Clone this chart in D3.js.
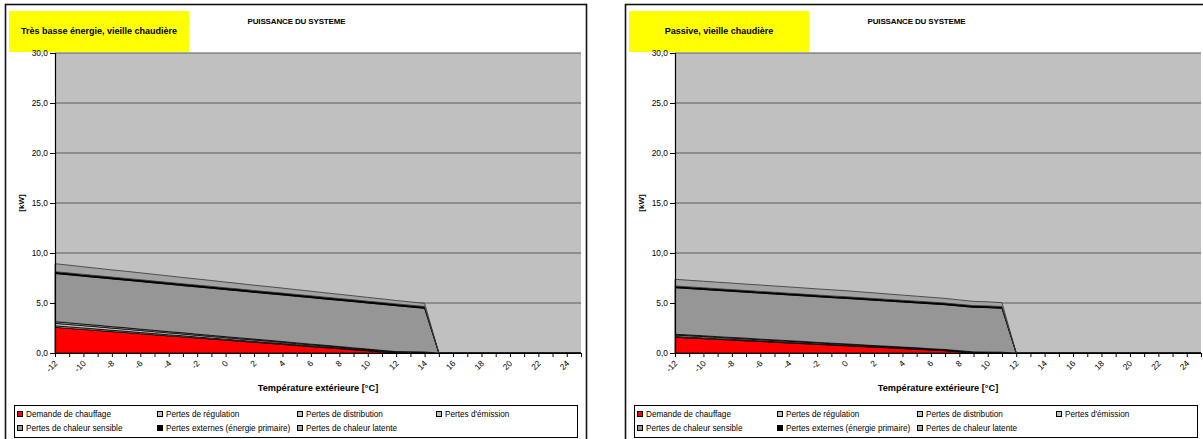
<!DOCTYPE html>
<html><head><meta charset="utf-8">
<script src="https://cdn.jsdelivr.net/npm/d3@7"></script>
<style>
body{margin:0;background:#fff}
svg{display:block}
text{font-family:Arial,"Liberation Sans",sans-serif;fill:#000}
</style>
</head><body>
<svg id="c" width="1203" height="439"></svg>
<script>
// ---------- DATA ----------
const temperatures = [-12,-11,-10,-9,-8,-7,-6,-5,-4,-3,-2,-1,0,1,2,3,4,5,6,7,8,9,10,11,12,13,14,15,16,17,18,19,20,21,22,23,24,25];
const xTickLabels = [-12,-10,-8,-6,-4,-2,0,2,4,6,8,10,12,14,16,18,20,22,24];
const yTickValues = [0,5,10,15,20,25,30];
const yTickLabels = ["0,0","5,0","10,0","15,0","20,0","25,0","30,0"];
const seriesNames = ["Demande de chauffage","Pertes de régulation","Pertes de distribution","Pertes d'émission","Pertes de chaleur sensible","Pertes externes (énergie primaire)","Pertes de chaleur latente"];
const chartTitle = "PUISSANCE DU SYSTEME";
const xAxisTitle = "Température extérieure [°C]";
const yAxisTitle = "[kW]";
const leftSubtitle = "Très basse énergie, vieille chaudière";
const rightSubtitle = "Passive, vieille chaudière";

// Left panel: Très basse énergie
const leftDemande      = [2.57,2.46,2.36,2.25,2.14,2.04,1.93,1.82,1.71,1.61,1.50,1.39,1.29,1.18,1.07,0.97,0.86,0.75,0.64,0.54,0.43,0.32,0.22,0.11,0,0,0,0,0,0,0,0,0,0,0,0,0,0];
const leftRegulation   = [0.15,0.15,0.14,0.14,0.13,0.13,0.12,0.12,0.11,0.11,0.10,0.10,0.09,0.09,0.09,0.08,0.08,0.07,0.07,0.06,0.06,0.05,0.05,0.04,0.04,0.03,0.03,0,0,0,0,0,0,0,0,0,0,0];
const leftDistribution = [0.25,0.24,0.23,0.23,0.22,0.21,0.20,0.19,0.19,0.18,0.17,0.16,0.15,0.14,0.14,0.13,0.12,0.11,0.10,0.10,0.09,0.08,0.07,0.06,0.06,0.05,0.04,0,0,0,0,0,0,0,0,0,0,0];
const leftEmission     = [0.16,0.16,0.15,0.15,0.14,0.14,0.13,0.13,0.12,0.12,0.11,0.11,0.10,0.10,0.09,0.09,0.08,0.08,0.07,0.07,0.06,0.06,0.05,0.05,0.04,0.04,0.03,0,0,0,0,0,0,0,0,0,0,0];
const leftSensible     = [4.82,4.81,4.80,4.78,4.78,4.76,4.77,4.75,4.75,4.72,4.73,4.72,4.71,4.70,4.68,4.67,4.67,4.66,4.66,4.63,4.63,4.63,4.61,4.61,4.59,4.48,4.37,0,0,0,0,0,0,0,0,0,0,0];
const leftExternes     = [0.18,0.18,0.18,0.18,0.18,0.18,0.18,0.18,0.18,0.18,0.18,0.18,0.18,0.18,0.18,0.18,0.18,0.18,0.18,0.18,0.18,0.18,0.18,0.18,0.18,0.18,0.18,0,0,0,0,0,0,0,0,0,0,0];
const leftLatente      = [0.80,0.78,0.76,0.74,0.72,0.71,0.69,0.67,0.65,0.63,0.61,0.59,0.57,0.55,0.53,0.52,0.50,0.48,0.46,0.44,0.42,0.40,0.38,0.36,0.34,0.33,0.31,0,0,0,0,0,0,0,0,0,0,0];

// Right panel: Passive
const rightDemande      = [1.57,1.50,1.43,1.36,1.29,1.22,1.15,1.08,1.00,0.93,0.86,0.79,0.72,0.65,0.58,0.51,0.44,0.37,0.30,0.23,0.12,0,0,0,0,0,0,0,0,0,0,0,0,0,0,0,0,0];
const rightRegulation   = [0.08,0.08,0.08,0.07,0.07,0.07,0.06,0.06,0.06,0.06,0.05,0.05,0.05,0.05,0.04,0.04,0.04,0.04,0.03,0.03,0.03,0.03,0.02,0.02,0,0,0,0,0,0,0,0,0,0,0,0,0,0];
const rightDistribution = [0.14,0.14,0.13,0.13,0.12,0.12,0.11,0.11,0.11,0.10,0.10,0.09,0.09,0.08,0.08,0.08,0.07,0.07,0.06,0.06,0.05,0.05,0.05,0.04,0,0,0,0,0,0,0,0,0,0,0,0,0,0];
const rightEmission     = [0.08,0.08,0.08,0.07,0.07,0.07,0.06,0.06,0.06,0.06,0.05,0.05,0.05,0.05,0.04,0.04,0.04,0.04,0.03,0.03,0.03,0.03,0.02,0.02,0,0,0,0,0,0,0,0,0,0,0,0,0,0];
const rightSensible     = [4.66,4.64,4.63,4.63,4.62,4.60,4.61,4.59,4.58,4.57,4.57,4.56,4.55,4.54,4.54,4.52,4.51,4.49,4.50,4.48,4.47,4.46,4.45,4.39,0,0,0,0,0,0,0,0,0,0,0,0,0,0];
const rightExternes     = [0.17,0.17,0.17,0.17,0.17,0.17,0.17,0.17,0.17,0.17,0.17,0.17,0.17,0.17,0.17,0.17,0.17,0.17,0.17,0.17,0.17,0.17,0.17,0.17,0,0,0,0,0,0,0,0,0,0,0,0,0,0];
const rightLatente      = [0.67,0.66,0.66,0.65,0.65,0.64,0.64,0.63,0.63,0.62,0.61,0.61,0.60,0.58,0.56,0.54,0.52,0.50,0.48,0.46,0.44,0.42,0.41,0.39,0,0,0,0,0,0,0,0,0,0,0,0,0,0];

// ---------- STYLE ----------
const seriesFill = ["#ff0000","#c0c0c0","#c0c0c0","#c0c0c0","#969696","#000000","#a3a3a3"];

const svg = d3.select("#c");

function drawPanel(ox, subtitle, series) {
  const g = svg.append("g").attr("transform", `translate(${ox},0)`);
  const plot = {l:55, r:581, t:53, b:353};
  const x = d3.scaleLinear().domain([temperatures[0], temperatures[temperatures.length-1]]).range([plot.l, plot.r]);
  const y = d3.scaleLinear().domain([0,30]).range([plot.b, plot.t]);

  // outer frame
  g.append("rect").attr("x",5.5).attr("y",4.5).attr("width",581).attr("height",440)
    .attr("fill","#fff").attr("stroke","#111").attr("stroke-width",1.6);

  // yellow label
  g.append("rect").attr("x",9).attr("y",11).attr("width",180).attr("height",41).attr("fill","#ffff00");
  g.append("text").attr("x",99).attr("y",33.5).attr("text-anchor","middle")
    .attr("font-size","9px").attr("font-weight","bold").text(subtitle);

  // title
  g.append("text").attr("x",296.5).attr("y",23.5).attr("text-anchor","middle")
    .attr("font-size","8px").attr("font-weight","bold").attr("letter-spacing","-0.15px").text(chartTitle);

  // plot background
  g.append("rect").attr("x",plot.l).attr("y",plot.t).attr("width",plot.r-plot.l).attr("height",plot.b-plot.t).attr("fill","#c0c0c0");

  // gridlines
  g.append("g").selectAll("line").data(yTickValues.filter(v=>v>0)).join("line")
    .attr("x1",plot.l).attr("x2",plot.r).attr("y1",d=>y(d)).attr("y2",d=>y(d))
    .attr("stroke","#5a5a5a").attr("stroke-width",1.2);

  // stacked areas
  const rows = temperatures.map((t,i)=>{
    const o = {t};
    seriesNames.forEach((n,k)=>{ o[n] = series[k][i]; });
    return o;
  });
  const stack = d3.stack().keys(seriesNames)(rows);
  const area = d3.area().x(d=>x(d.data.t)).y0(d=>y(d[0])).y1(d=>y(d[1]));
  g.append("g").selectAll("path").data(stack).join("path")
    .attr("d", area)
    .attr("fill",(d,i)=>seriesFill[i])
    .attr("stroke",(d,i)=> i===6 ? "#333" : "#000")
    .attr("stroke-width",0.8)
    .attr("stroke-linejoin","round");

  // y axis
  const yAxis = d3.axisLeft(y).tickValues(yTickValues).tickFormat((d,i)=>yTickLabels[i]).tickSize(5).tickPadding(2);
  const ya = g.append("g").attr("transform",`translate(${plot.l},0)`).call(yAxis);
  ya.select(".domain").attr("stroke","#000").attr("stroke-width",1.2);
  ya.selectAll(".tick line").attr("stroke","#000");
  ya.selectAll(".tick text").attr("font-size","8.4px").attr("font-family","Arial, 'Liberation Sans', sans-serif").attr("fill","#000");

  // x axis
  const xAxis = d3.axisBottom(x).tickValues(temperatures).tickFormat("").tickSize(4).tickSizeOuter(0);
  const xa = g.append("g").attr("transform",`translate(0,${plot.b})`).call(xAxis);
  xa.select(".domain").attr("stroke","#000").attr("stroke-width",1.2);
  xa.selectAll(".tick line").attr("stroke","#000");
  g.append("g").selectAll("text").data(xTickLabels).join("text")
    .attr("transform",d=>`translate(${x(d)+3},${plot.b+11}) rotate(-45)`)
    .attr("text-anchor","end").attr("font-size","8.4px").text(d=>d);

  // axis titles
  g.append("text").attr("x",(plot.l+plot.r)/2).attr("y",391).attr("text-anchor","middle")
    .attr("font-size","9.2px").attr("font-weight","bold").text(xAxisTitle);
  g.append("text").attr("transform",`translate(24,${(plot.t+plot.b)/2}) rotate(-90)`).attr("text-anchor","middle")
    .attr("font-size","8px").attr("font-weight","bold").text(yAxisTitle);

  // legend
  g.append("rect").attr("x",14.5).attr("y",405.5).attr("width",563).attr("height",32)
    .attr("fill","#fff").attr("stroke","#000").attr("stroke-width",1);
  const colX = [17.5,157.5,297.5,436.5], rowY = [414,428];
  const lg = g.append("g").selectAll("g").data(seriesNames).join("g")
    .attr("transform",(d,i)=>`translate(${colX[i%4]},${rowY[Math.floor(i/4)]})`);
  lg.append("rect").attr("x",0).attr("y",-2.5).attr("width",5).attr("height",5)
    .attr("fill",(d,i)=>seriesFill[i]).attr("stroke","#000").attr("stroke-width",1);
  lg.append("text").attr("x",8.5).attr("y",3).attr("font-size","8.2px").text(d=>d);
}

drawPanel(0, leftSubtitle, [leftDemande,leftRegulation,leftDistribution,leftEmission,leftSensible,leftExternes,leftLatente]);
drawPanel(620, rightSubtitle, [rightDemande,rightRegulation,rightDistribution,rightEmission,rightSensible,rightExternes,rightLatente]);
</script>
</body></html>
